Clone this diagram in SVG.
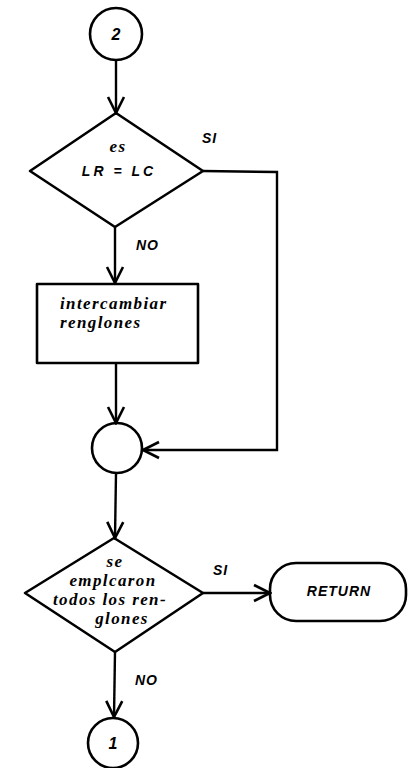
<svg xmlns="http://www.w3.org/2000/svg" width="412" height="768" viewBox="0 0 412 768">
  <style>
    .shape { fill: none; stroke: #000; stroke-width: 2.6; stroke-linejoin: round; }
    .line { fill: none; stroke: #000; stroke-width: 2.4; }
    .cap { font-family: "Liberation Sans", Arial, sans-serif; font-weight: bold; font-style: italic; font-size: 14px; letter-spacing: 1px; fill: #000; }
    .low { font-family: "Liberation Serif", "Times New Roman", serif; font-style: italic; font-weight: bold; font-size: 17px; letter-spacing: 1.4px; fill: #000; }
    .num { font-family: "Liberation Sans", Arial, sans-serif; font-weight: bold; font-style: italic; font-size: 16px; fill: #000; }
  </style>
  <defs>
    <marker id="arrow" viewBox="0 0 20 20" refX="18" refY="10" markerWidth="20" markerHeight="20" markerUnits="userSpaceOnUse" orient="auto">
      <path d="M2,2 L18,10 L2,18" fill="none" stroke="#000" stroke-width="2.6"/>
    </marker>
  </defs>
  <rect width="412" height="768" fill="#fff"/>

  <!-- connectors -->
  <g id="connectors">
    <line class="line" x1="116" y1="60" x2="116" y2="113" marker-end="url(#arrow)"/>
    <line class="line" x1="115" y1="227" x2="115" y2="283" marker-end="url(#arrow)"/>
    <polyline class="line" points="203,171 277,172 277,450 143,450" marker-end="url(#arrow)"/>
    <line class="line" x1="116" y1="363" x2="116" y2="423" marker-end="url(#arrow)"/>
    <line class="line" x1="116" y1="473" x2="115" y2="538" marker-end="url(#arrow)"/>
    <line class="line" x1="203" y1="593" x2="270" y2="593" marker-end="url(#arrow)"/>
    <line class="line" x1="115" y1="652" x2="114" y2="717" marker-end="url(#arrow)"/>
    <text class="cap" x="202" y="143">SI</text>
    <text class="cap" x="136" y="250">NO</text>
    <text class="cap" x="213" y="575">SI</text>
    <text class="cap" x="135" y="685">NO</text>
  </g>

  <!-- connector 2 (top) -->
  <g id="conn2">
    <circle class="shape" cx="116" cy="34" r="26"/>
    <text class="num" x="116" y="40" text-anchor="middle">2</text>
  </g>

  <!-- decision LR = LC -->
  <g id="dec1">
    <polygon class="shape" points="116,113 203,171 115,227 30,171"/>
    <text class="low" x="118" y="152" text-anchor="middle">es</text>
    <text class="cap" x="119" y="176" text-anchor="middle" style="letter-spacing:3px">LR = LC</text>
  </g>

  <!-- process: swap rows -->
  <g id="swap">
    <rect class="shape" x="37" y="284" width="161" height="79"/>
    <text class="low" x="60" y="309">intercambiar</text>
    <text class="low" x="60" y="328">renglones</text>
  </g>

  <!-- junction -->
  <g id="junction">
    <circle class="shape" cx="117" cy="448" r="25"/>
  </g>

  <!-- decision all rows used -->
  <g id="dec2">
    <polygon class="shape" points="114,538 203,593 115,652 25,593"/>
    <text class="low" x="115" y="567" text-anchor="middle">se</text>
    <text class="low" x="113" y="586" text-anchor="middle">emplcaron</text>
    <text class="low" x="110" y="605" text-anchor="middle">todos los ren-</text>
    <text class="low" x="122" y="624" text-anchor="middle">glones</text>
  </g>

  <!-- terminal RETURN -->
  <g id="return">
    <rect class="shape" x="270" y="563" width="136" height="58" rx="26" ry="26"/>
    <text class="cap" x="339" y="596" text-anchor="middle">RETURN</text>
  </g>

  <!-- connector 1 (bottom) -->
  <g id="conn1">
    <circle class="shape" cx="113" cy="743" r="25"/>
    <text class="num" x="113" y="749" text-anchor="middle">1</text>
  </g>
</svg>
